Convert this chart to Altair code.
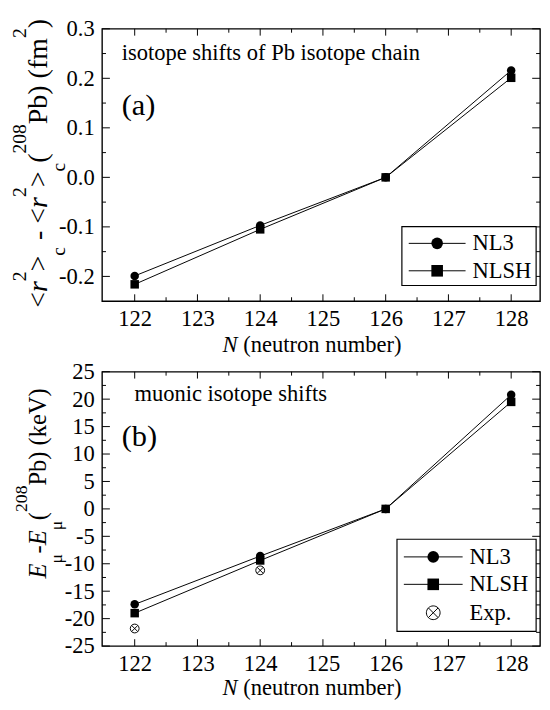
import altair as alt
import pandas as pd

FONT = "Liberation Serif"

# ---------------- data ----------------
neutrons = [122, 124, 126, 128]
series_names = ["NL3", "NLSH"]
series_shapes = ["circle", "square"]
r2_nl3 = [-0.199, -0.097, 0.0, 0.216]
r2_nlsh = [-0.216, -0.105, 0.0, 0.201]
emu_nl3 = [-17.4, -8.6, 0.0, 20.8]
emu_nlsh = [-19.0, -9.4, 0.0, 19.5]
exp_neutrons = [122, 124]
emu_exp = [-21.8, -11.2]
exp_name = "Exp."

x_ticks = [122, 123, 124, 125, 126, 127, 128]
x_minor = [122.5, 123.5, 124.5, 125.5, 126.5, 127.5]
ya_ticks = [-0.2, -0.1, 0.0, 0.1, 0.2, 0.3]
ya_minor = [-0.15, -0.05, 0.05, 0.15, 0.25]
yb_ticks = [-25, -20, -15, -10, -5, 0, 5, 10, 15, 20, 25]
yb_minor = [-22.5, -17.5, -12.5, -7.5, -2.5, 2.5, 7.5, 12.5, 17.5, 22.5]
x_domain = [121.48, 128.46]
ya_domain = [-0.25, 0.3]
yb_domain = [-25, 25]

text_a = "isotope shifts of Pb isotope chain"
text_b = "muonic isotope shifts"
tag_a = "(a)"
tag_b = "(b)"
xtitle_var = "N"
xtitle_rest = "(neutron number)"

ytitle_a = [("<", "n"), ("r", "i"), ("2", "sup"), (">", "n"), ("c", "sub"),
            (" ", "n"), ("-", "n"), (" ", "n"),
            ("<", "n"), ("r", "i"), ("2", "sup"), (">", "n"), ("c", "sub"),
            ("(", "n"), ("208", "sup"), ("Pb", "n"), (")", "n"), (" ", "n"),
            ("(fm", "n"), ("2", "sup"), (")", "n")]
ytitle_b = [("E", "i"), ("\u03bc", "sub"), ("-", "n"), ("E", "i"), ("\u03bc", "sub"),
            ("(", "n"), ("208", "sup"), ("Pb", "n"), (")", "n"), (" ", "n"),
            ("(keV)", "n")]

# ---------------- layout constants ----------------
W = 447
HA = 278
HB = 280
TICK_MAJ = 7
TICK_MIN = 4
LABEL_FS = 23
OTIMES = ("M -1 0 A 1 1 0 1 0 1 0 A 1 1 0 1 0 -1 0 "
          "M -0.7071 -0.7071 L 0.7071 0.7071 M -0.7071 0.7071 L 0.7071 -0.7071")

ADV = {' ': 0.25, '(': 0.333, ')': 0.333, '-': 0.333, '<': 0.564, '>': 0.564,
       '0': 0.5, '2': 0.5, '8': 0.5, 'P': 0.556, 'b': 0.5, 'f': 0.333, 'm': 0.778,
       'c': 0.444, 'k': 0.5, 'e': 0.444, 'V': 0.722, '\u03bc': 0.576}
ADV_I = {'r': 0.389, 'E': 0.611, 'N': 0.667}

one = pd.DataFrame({"k": [0]})


def width_of(s, fs, italic=False):
    tot = 0.0
    for ch in s:
        if italic and ch in ADV_I:
            tot += ADV_I[ch]
        else:
            tot += ADV.get(ch, 0.5)
    return tot * fs


def txt(t, x, y, fs, align="left", baseline="alphabetic", style="normal", angle=0):
    kw = dict(text=t, align=align, baseline=baseline, font=FONT, fontSize=fs,
              fontStyle=style, color="black")
    if angle:
        kw["angle"] = angle
    return alt.Chart(one).mark_text(**kw).encode(x=alt.value(x), y=alt.value(y))


def ytitle(pieces, y_center, x_main, fs, fs_small, sup_dx, sub_dx, y_top=None):
    sizes = []
    total = 0.0
    for t, kind in pieces:
        size = fs_small if kind in ("sup", "sub") else fs
        w = width_of(t, size, kind == "i")
        sizes.append((size, w))
        total += w
    if y_top is not None:
        y = y_top + total
    else:
        y = y_center + total / 2
    out = []
    for (t, kind), (size, w) in zip(pieces, sizes):
        if t.strip():
            x = x_main + {"sup": sup_dx, "sub": sub_dx}.get(kind, 0)
            out.append(txt(t, x, y, size, style="italic" if kind == "i" else "normal",
                           angle=270))
        y -= w
    return out


def xtitle(H, dy, x0, fs):
    w = width_of(xtitle_var, fs, True) + width_of(" ", fs)
    return [txt(xtitle_var, x0, H + dy, fs, style="italic"),
            txt(xtitle_rest, x0 + w, H + dy, fs)]


def axis_x():
    return alt.Axis(values=x_ticks, ticks=False, domain=False, grid=False, title=None,
                    labelFont=FONT, labelFontSize=LABEL_FS, labelColor="black",
                    labelPadding=7, format="d")


def axis_y(ticks, fmt):
    expr = ("datum.value < 0 ? '-' + format(-datum.value, '%s') : format(datum.value, '%s')"
            % (fmt, fmt))
    return alt.Axis(values=ticks, ticks=False, domain=False, grid=False, title=None,
                    labelFont=FONT, labelFontSize=LABEL_FS, labelColor="black",
                    labelPadding=8, labelExpr=expr)


def tick_layers(H, xs, ys, ymaj, ymin, xax, yax):
    dfx = pd.DataFrame({"t": x_ticks})
    dfxm = pd.DataFrame({"t": x_minor})
    dfy = pd.DataFrame({"t": ymaj})
    dfym = pd.DataFrame({"t": ymin})
    L = []
    for d, ln in ((dfx, TICK_MAJ), (dfxm, TICK_MIN)):
        base = alt.Chart(d).mark_rule(color="black", strokeWidth=1)
        L.append(base.encode(x=alt.X("t:Q", scale=xs, axis=xax),
                             y=alt.value(H), y2=alt.value(H - ln)))
        L.append(base.encode(x=alt.X("t:Q", scale=xs, axis=xax),
                             y=alt.value(0), y2=alt.value(ln)))
    for d, ln in ((dfy, TICK_MAJ + 1), (dfym, TICK_MIN)):
        base = alt.Chart(d).mark_rule(color="black", strokeWidth=1)
        L.append(base.encode(y=alt.Y("t:Q", scale=ys, axis=yax),
                             x=alt.value(0), x2=alt.value(ln)))
        L.append(base.encode(y=alt.Y("t:Q", scale=ys, axis=yax),
                             x=alt.value(W), x2=alt.value(W - ln)))
    return L


def legend(box, rows, line_x, sym_x, text_x):
    x1, y1, x2, y2 = box
    L = [alt.Chart(one).mark_rect(fill="white", stroke="black", strokeWidth=1.2).encode(
        x=alt.value(x1), x2=alt.value(x2), y=alt.value(y1), y2=alt.value(y2))]
    for label, shape, y, with_line, size, filled in rows:
        if with_line:
            L.append(alt.Chart(one).mark_rule(color="black", strokeWidth=1).encode(
                x=alt.value(line_x[0]), x2=alt.value(line_x[1]), y=alt.value(y)))
        L.append(alt.Chart(one).mark_point(shape=shape, filled=filled, color="black",
                                           opacity=1, size=size, strokeWidth=1).encode(
            x=alt.value(sym_x), y=alt.value(y)))
        L.append(txt(label, text_x, y, LABEL_FS, baseline="middle"))
    return L


def series_df(v1, v2):
    rows = []
    for name, vals in zip(series_names, (v1, v2)):
        for n, v in zip(neutrons, vals):
            rows.append({"N": n, "v": v, "series": name})
    return pd.DataFrame(rows)


def data_layers(df, xs, ys, xax, yax):
    base = alt.Chart(df)
    enc = dict(x=alt.X("N:Q", scale=xs, axis=xax),
               y=alt.Y("v:Q", scale=ys, axis=yax))
    lines = base.mark_line(color="black", strokeWidth=1).encode(
        detail="series:N", **enc)
    pts = base.mark_point(filled=True, color="black", opacity=1, size=75).encode(
        shape=alt.Shape("series:N", scale=alt.Scale(domain=series_names, range=series_shapes),
                        legend=None), **enc)
    return [lines, pts]


xs = alt.Scale(domain=x_domain, nice=False, zero=False)
xax = axis_x()

# ---------------- panel (a) ----------------
ysa = alt.Scale(domain=ya_domain, nice=False, zero=False)
yaxa = axis_y(ya_ticks, ".1f")
dfa = series_df(r2_nl3, r2_nlsh)
layers_a = data_layers(dfa, xs, ysa, xax, yaxa)
layers_a += tick_layers(HA, xs, ysa, ya_ticks, ya_minor, xax, yaxa)
layers_a += legend((306, 202, 443, 262),
                   [(series_names[0], series_shapes[0], 219, True, 140, True),
                    (series_names[1], series_shapes[1], 247, True, 140, True)],
                   (313, 371), 342, 378)
layers_a += [txt(text_a, 20, 32, 23), txt(tag_a, 20, 88, 31)]
layers_a += xtitle(HA, 52, 123, 23)
layers_a += ytitle(ytitle_a, None, -56, 28.5, 20, -22, 18, y_top=-10)
layers_a.append(alt.Chart(one).mark_point(opacity=0, size=1).encode(
    x=alt.value(-94), y=alt.value(-12)))
panel_a = alt.layer(*layers_a).properties(width=W, height=HA)

# ---------------- panel (b) ----------------
ysb = alt.Scale(domain=yb_domain, nice=False, zero=False)
yaxb = axis_y(yb_ticks, "d")
dfb = series_df(emu_nl3, emu_nlsh)
dfe = pd.DataFrame({"N": exp_neutrons, "v": emu_exp})
layers_b = data_layers(dfb, xs, ysb, xax, yaxb)
layers_b.append(alt.Chart(dfe).mark_point(shape=OTIMES, filled=False, color="black",
                                          size=81, strokeWidth=1, opacity=1).encode(
    x=alt.X("N:Q", scale=xs, axis=xax), y=alt.Y("v:Q", scale=ysb, axis=yaxb)))
layers_b += tick_layers(HB, xs, ysb, yb_ticks, yb_minor, xax, yaxb)
layers_b += legend((301, 171, 443, 265),
                   [(series_names[0], series_shapes[0], 189, True, 140, True),
                    (series_names[1], series_shapes[1], 217, True, 140, True),
                    (exp_name, OTIMES, 246, False, 196, False)],
                   (308, 368), 338, 375)
layers_b += [txt(text_b, 33, 30, 23), txt(tag_b, 20, 76, 31)]
layers_b += xtitle(HB, 49.5, 123, 23)
layers_b += ytitle(ytitle_b, 114, -57, 25, 18, -20, 16)
panel_b = alt.layer(*layers_b).properties(width=W, height=HB)

chart = alt.vconcat(panel_a, panel_b, spacing=72, bounds="flush").properties(
    padding={"left": 0, "top": 0, "right": 0, "bottom": 0}
).configure_view(stroke="black", strokeWidth=1.4)

chart.save("out.html", embed_options={"renderer": "svg", "actions": False})
